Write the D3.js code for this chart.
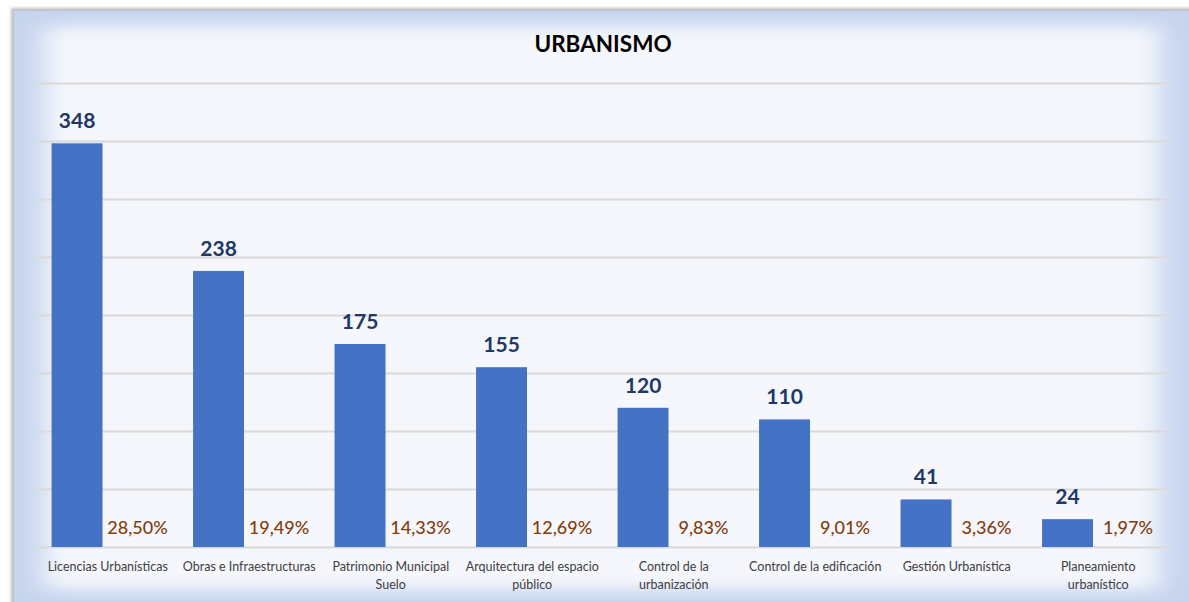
<!DOCTYPE html>
<html>
<head>
<meta charset="utf-8">
<script src="https://cdn.jsdelivr.net/npm/d3@7"></script>
<style>
  html, body { margin: 0; padding: 0; background: #ffffff; }
  svg { display: block; }
</style>
</head>
<body>
<svg id="chart" width="1189" height="602"></svg>
<script>
// ---- data ----
const title = "URBANISMO";
const categories = [
  "Licencias Urbanísticas",
  "Obras e Infraestructuras",
  "Patrimonio Municipal Suelo",
  "Arquitectura del espacio público",
  "Control de la urbanización",
  "Control de la edificación",
  "Gestión Urbanística",
  "Planeamiento urbanístico"
];
const categoryLines = [
  ["Licencias Urbanísticas"],
  ["Obras e Infraestructuras"],
  ["Patrimonio Municipal", "Suelo"],
  ["Arquitectura del espacio", "público"],
  ["Control de la", "urbanización"],
  ["Control de la edificación"],
  ["Gestión Urbanística"],
  ["Planeamiento", "urbanístico"]
];
const values = [348, 238, 175, 155, 120, 110, 41, 24];
const percentLabels = ["28,50%", "19,49%", "14,33%", "12,69%", "9,83%", "9,01%", "3,36%", "1,97%"];
const yTicks = [0, 50, 100, 150, 200, 250, 300, 350, 400];

// ---- layout ----
const W = 1189, H = 602;
const plot = { left: 37, right: 1169, top: 83, bottom: 547 };
const FONT = "Lato, 'Open Sans', sans-serif";

const svg = d3.select("#chart");
const defs = svg.append("defs");

const blur = defs.append("filter").attr("id", "glow")
  .attr("filterUnits", "userSpaceOnUse")
  .attr("x", 0).attr("y", 0).attr("width", W).attr("height", H);
blur.append("feGaussianBlur").attr("stdDeviation", "14 8");

const shadow = defs.append("filter").attr("id", "shadow")
  .attr("x", "-5%").attr("y", "-5%").attr("width", "110%").attr("height", "110%");
shadow.append("feGaussianBlur").attr("stdDeviation", 1.5);

// panel background
svg.append("rect").attr("x", 11).attr("y", 8).attr("width", W).attr("height", H)
  .attr("fill", "#bfbfbf").attr("filter", "url(#shadow)");
svg.append("rect").attr("x", 14).attr("y", 11).attr("width", W).attr("height", H)
  .attr("fill", "#c6d4ee");
svg.append("rect").attr("x", 44).attr("y", 26).attr("width", 1116).attr("height", 564)
  .attr("fill", "#f5f7fc").attr("filter", "url(#glow)");

// scales
const x = d3.scaleBand().domain(categories).range([plot.left, plot.right]).paddingInner(0).paddingOuter(0);
const y = d3.scaleLinear().domain([0, 400]).range([plot.bottom, plot.top]);

const bw = x.bandwidth();
const barW = bw * 0.36;
const barOffset = -bw * 0.217; // bar centre relative to band centre
const pctOffset = bw * 0.21;

// gridlines via axis
const gridAxis = d3.axisLeft(y).tickValues(yTicks).tickSize(-(plot.right - plot.left)).tickFormat("");
const g = svg.append("g").attr("transform", `translate(${plot.left},0)`).call(gridAxis);
g.select(".domain").remove();
g.selectAll(".tick line").attr("stroke", "#d9d9d9").attr("stroke-width", 2);

// bars
svg.append("g").selectAll("rect").data(values).join("rect")
  .attr("x", (d, i) => x(categories[i]) + bw / 2 + barOffset - barW / 2)
  .attr("y", d => y(d))
  .attr("width", barW)
  .attr("height", d => y(0) - y(d))
  .attr("fill", "#4472c4");

// value labels
svg.append("g").selectAll("text").data(values).join("text")
  .attr("x", (d, i) => x(categories[i]) + bw / 2 + barOffset)
  .attr("y", d => y(d) - 15)
  .attr("text-anchor", "middle")
  .attr("font-family", FONT).attr("font-weight", "bold").attr("font-size", 21)
  .attr("fill", "#203864")
  .text(d => d);

// percentage labels
svg.append("g").selectAll("text").data(percentLabels).join("text")
  .attr("x", (d, i) => x(categories[i]) + bw / 2 + pctOffset)
  .attr("y", 534)
  .attr("text-anchor", "middle")
  .attr("font-family", FONT).attr("font-size", 18).attr("font-weight", 500)
  .attr("fill", "#843c0c")
  .text(d => d);

// category labels
const cat = svg.append("g").selectAll("text").data(categoryLines).join("text")
  .attr("x", (d, i) => x(categories[i]) + bw / 2)
  .attr("y", 571)
  .attr("text-anchor", "middle")
  .attr("font-family", FONT).attr("font-size", 12.5)
  .attr("fill", "#404040");
cat.selectAll("tspan").data(d => d).join("tspan")
  .attr("x", function () { return d3.select(this.parentNode).attr("x"); })
  .attr("dy", (d, i) => i === 0 ? 0 : 18)
  .text(d => d);

// title
svg.append("text").attr("x", 603).attr("y", 52)
  .attr("text-anchor", "middle")
  .attr("font-family", FONT).attr("font-weight", "bold").attr("font-size", 22.5)
  .attr("fill", "#000000")
  .text(title);
</script>
</body>
</html>
